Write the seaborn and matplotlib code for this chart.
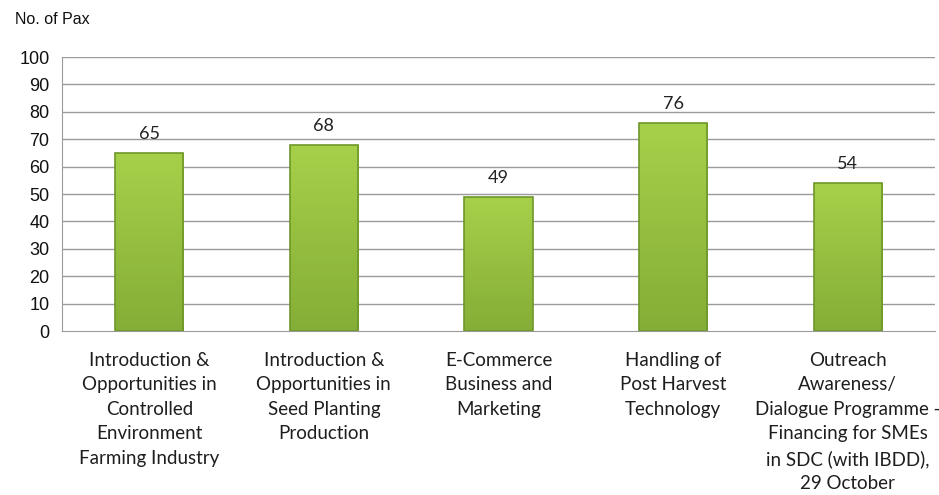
import numpy as np
import pandas as pd
import matplotlib
matplotlib.use("Agg")
import matplotlib.pyplot as plt
from matplotlib.colors import LinearSegmentedColormap
import seaborn as sb

# chart data
categories = [
    "Introduction &\nOpportunities in\nControlled\nEnvironment\nFarming Industry",
    "Introduction &\nOpportunities in\nSeed Planting\nProduction",
    "E-Commerce\nBusiness and\nMarketing",
    "Handling of\nPost Harvest\nTechnology",
    "Outreach\nAwareness/\nDialogue Programme -\nFinancing for SMEs\nin SDC (with IBDD),\n29 October",
]
pax = [65, 68, 49, 76, 54]
yticks = list(range(0, 101, 10))

df = pd.DataFrame({"Programme": categories, "Pax": pax})

sb.set_style("white")
plt.rcParams['font.family'] = ['Liberation Sans', 'DejaVu Sans']

fig = plt.figure(figsize=(9.39, 4.95), dpi=100)
ax = fig.add_axes([0.066, 0.3313, 0.9297, 0.5535])

sb.barplot(data=df, x="Programme", y="Pax", ax=ax, color="#93c23f",
           width=0.39, edgecolor="#6e972a", linewidth=1.2, saturation=1)

# vertical gradient fill, clipped to each bar
grad = LinearSegmentedColormap.from_list("g", ["#84ae36", "#a7d04a"])
for p in ax.patches:
    x0, y0 = p.get_x(), p.get_y()
    w, h = p.get_width(), p.get_height()
    im = ax.imshow(np.linspace(0, 1, 100).reshape(-1, 1), cmap=grad,
                   extent=[x0, x0 + w, y0, y0 + h], origin="lower",
                   aspect="auto", zorder=p.get_zorder() + 0.1)
    im.set_clip_path(p)
    p.set_facecolor("none")
    p.set_zorder(p.get_zorder() + 0.2)

# horizontal grid
ax.set_ylim(0, 100)
ax.set_yticks(yticks)
ax.set_xlim(-0.5, len(categories) - 0.5)
for y in yticks[1:]:
    ax.axhline(y, color="#9a9a9a", lw=1, zorder=0)
ax.set_axisbelow(True)

# value labels
for i, v in enumerate(pax):
    ax.text(i, v + 4, str(v), ha="center", va="bottom", fontsize=13,
            family="Lato", color="#222222")

# axes styling
for s in ["top", "right"]:
    ax.spines[s].set_visible(False)
ax.spines["left"].set_color("#9a9a9a")
ax.spines["bottom"].set_color("#9a9a9a")
ax.tick_params(axis="y", length=5, color="#9a9a9a", labelsize=13, pad=4,
               labelcolor="#111111")
ax.tick_params(axis="x", which="major", length=0, pad=15)
ax.set_xticks(np.arange(-0.5, len(categories)), minor=True)
ax.tick_params(axis="x", which="minor", length=5, color="#9a9a9a")
ax.set_xticklabels(categories, fontsize=13.5, family="Lato",
                   linespacing=1.53, color="#1e1e1e")
ax.set_xlabel("")
ax.set_ylabel("")

fig.text(15 / 939, 1 - 20 / 495, "No. of Pax", fontsize=11.5, va="center",
         ha="left", color="#111111")

fig.savefig("out.png", dpi=100)
